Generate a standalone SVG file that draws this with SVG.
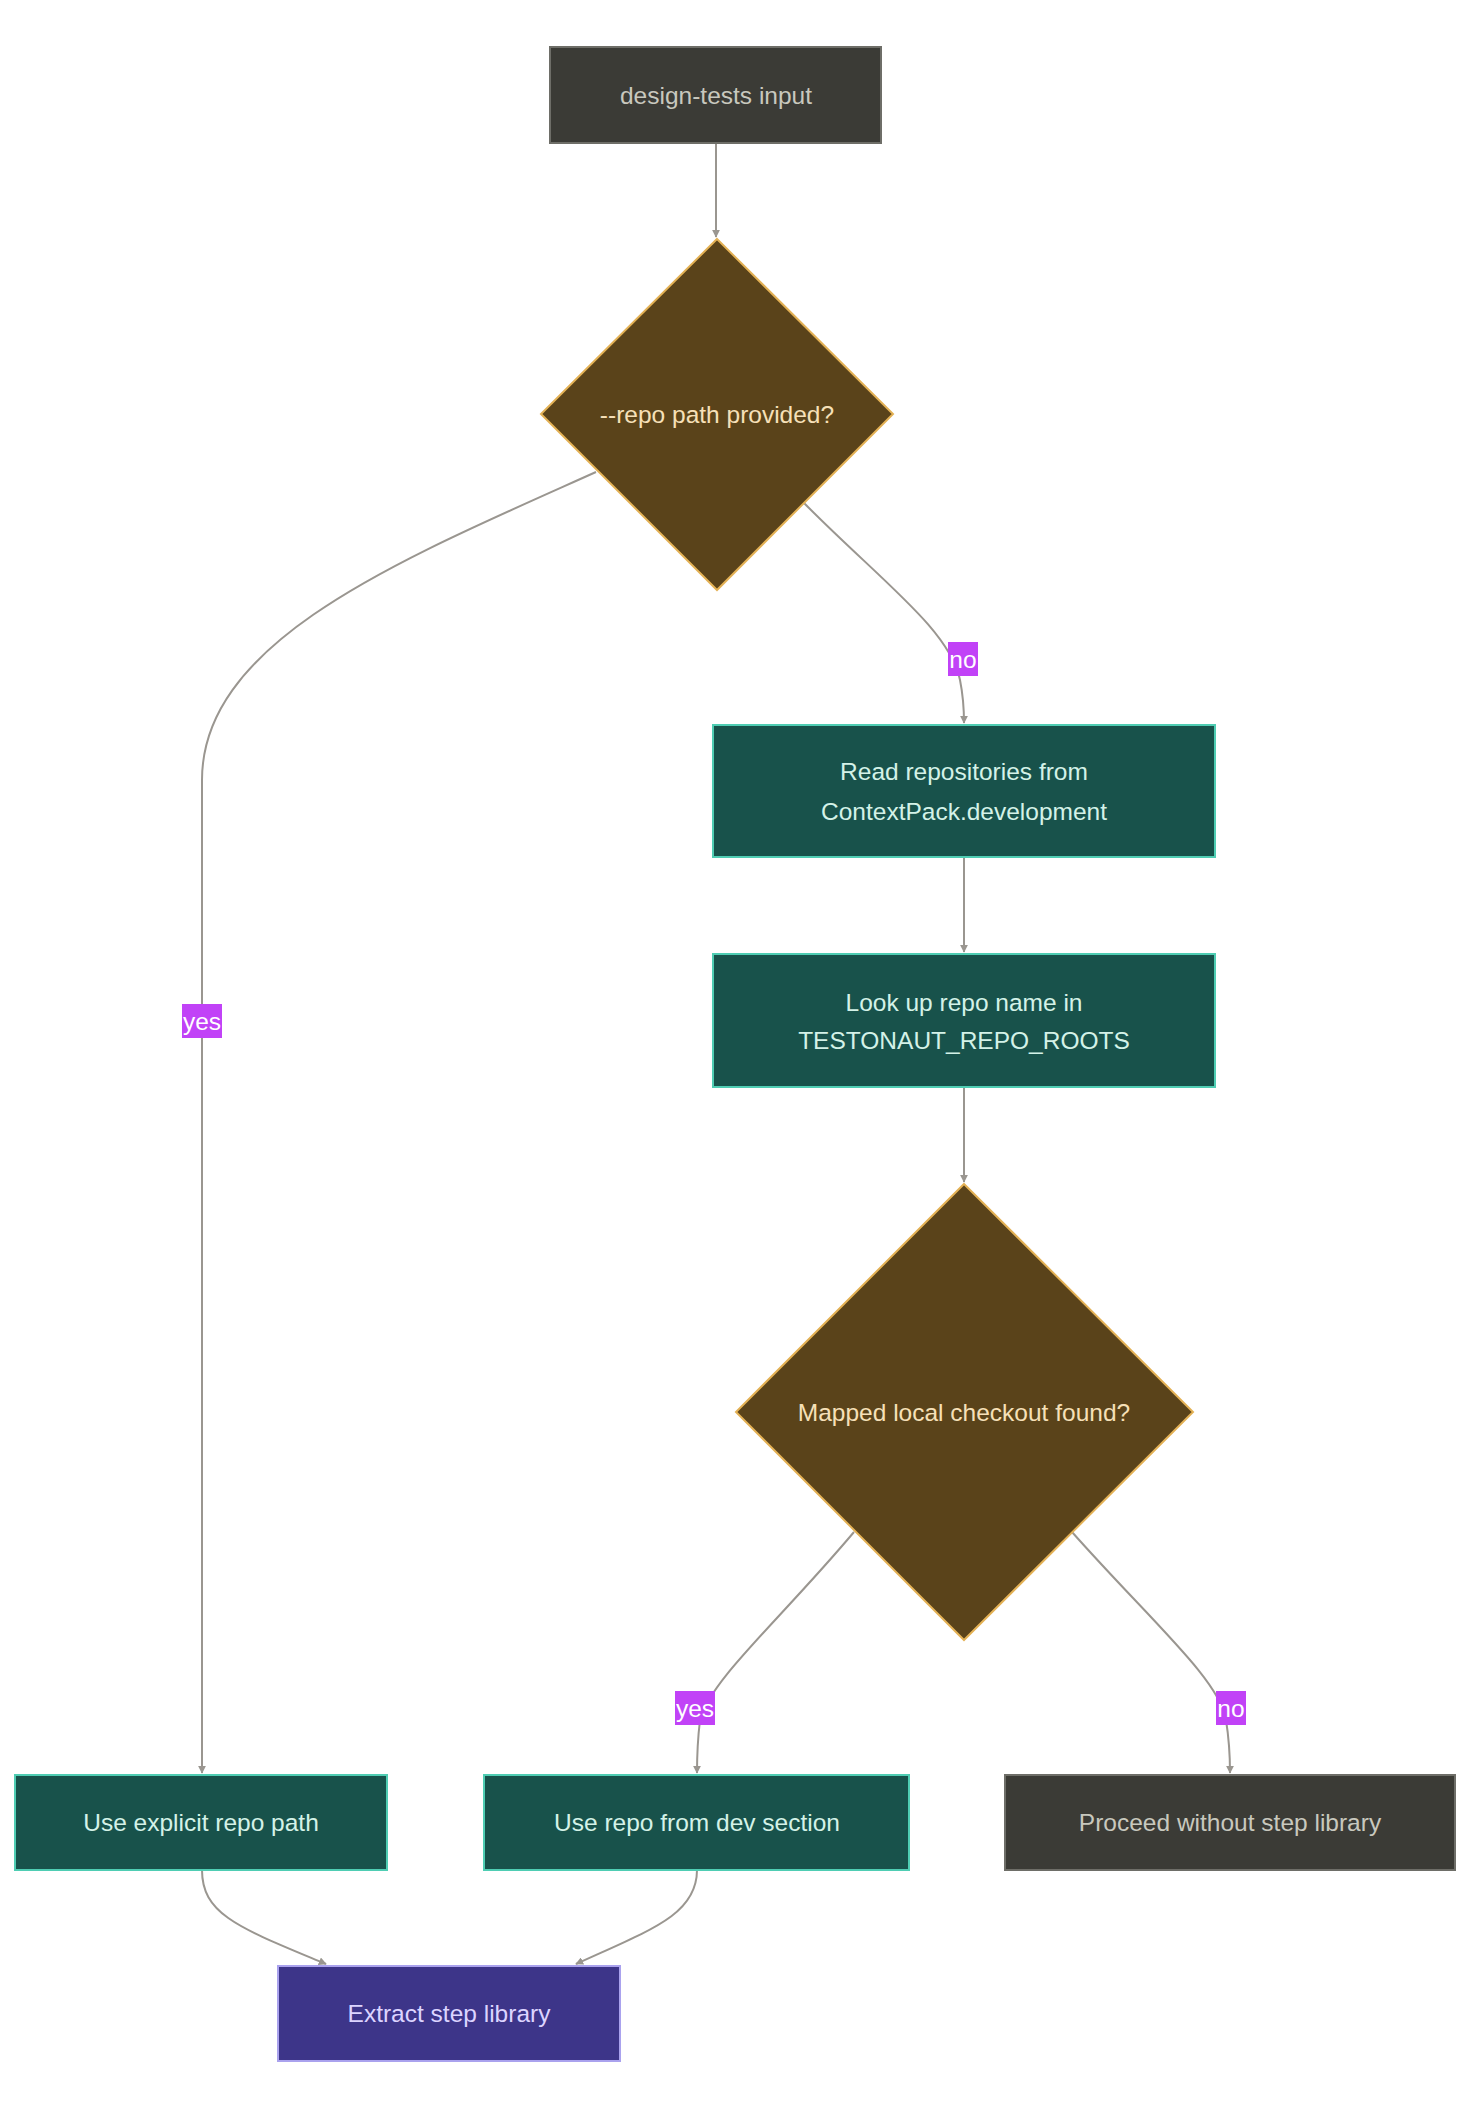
<svg xmlns="http://www.w3.org/2000/svg" width="1472" height="2110" viewBox="0 0 1472 2110">
<defs>
<marker id="ah" viewBox="0 0 10 10" refX="9" refY="5" markerWidth="8" markerHeight="8" markerUnits="userSpaceOnUse" orient="auto"><path d="M0,0L10,5L0,10z" fill="#9a9690"/></marker>
<style>
text{font-family:"Liberation Sans",Arial,sans-serif;font-size:24.5px;text-anchor:middle;dominant-baseline:central}
.e{fill:none;stroke:#9a9690;stroke-width:2;marker-end:url(#ah)}
.dk rect{fill:#3b3b36;stroke:#6e6e68;stroke-width:2}.dk text{fill:#c8c8be}
.tl rect{fill:#18524b;stroke:#4fcdb3;stroke-width:2}.tl text{fill:#d4f2e8}
.dm polygon{fill:#5a431a;stroke:#e3b155;stroke-width:2}.dm text{fill:#f6e0b8}
.pu rect{fill:#3d3589;stroke:#aaa2ee;stroke-width:2}.pu text{fill:#dcd4ff}
.lb rect{fill:#c142f7}.lb text{fill:#fff}
</style>
</defs>
<rect width="1472" height="2110" fill="#fff"/>
<g id="edges">
<path class="e" d="M716,143 L716,237"/>
<path class="e" d="M596,472 C400,560 202,640 202,780 L202,1773"/>
<path class="e" d="M804,503 C880,580 950,630 960,680 Q964,700 964,723"/>
<path class="e" d="M964,857 L964,952"/>
<path class="e" d="M964,1087 L964,1182"/>
<path class="e" d="M854,1532 C780,1620 710,1680 700,1720 Q697,1745 697,1773"/>
<path class="e" d="M1072,1532 C1150,1620 1220,1680 1226,1720 Q1230,1745 1230,1773"/>
<path class="e" d="M202,1870 C202,1915 240,1928 326,1964"/>
<path class="e" d="M697,1870 C697,1915 650,1930 576,1964"/>
<g class="lb"><rect x="948" y="642" width="30" height="34"/><text x="963" y="659">no</text></g>
<g class="lb"><rect x="182" y="1004" width="40" height="34"/><text x="202" y="1021">yes</text></g>
<g class="lb"><rect x="675" y="1691" width="40" height="34"/><text x="695" y="1708">yes</text></g>
<g class="lb"><rect x="1216" y="1691" width="30" height="34"/><text x="1231" y="1708">no</text></g>
</g>
<g id="start" class="dk"><rect x="550" y="47" width="331" height="96"/><text x="716" y="95">design-tests input</text></g>
<g id="d1" class="dm"><polygon points="717,239 893,414 717,590 541,414"/><text x="717" y="414">--repo path provided?</text></g>
<g id="read" class="tl"><rect x="713" y="725" width="502" height="132"/><text x="964" y="771">Read repositories from</text><text x="964" y="811">ContextPack.development</text></g>
<g id="look" class="tl"><rect x="713" y="954" width="502" height="133"/><text x="964" y="1002">Look up repo name in</text><text x="964" y="1040">TESTONAUT_REPO_ROOTS</text></g>
<g id="d2" class="dm"><polygon points="964,1184 1193,1412 964,1640 736,1412"/><text x="964" y="1412">Mapped local checkout found?</text></g>
<g id="explicit" class="tl"><rect x="15" y="1775" width="372" height="95"/><text x="201" y="1822">Use explicit repo path</text></g>
<g id="dev" class="tl"><rect x="484" y="1775" width="425" height="95"/><text x="697" y="1822">Use repo from dev section</text></g>
<g id="proceed" class="dk"><rect x="1005" y="1775" width="450" height="95"/><text x="1230" y="1822">Proceed without step library</text></g>
<g id="extract" class="pu"><rect x="278" y="1966" width="342" height="95"/><text x="449" y="2013">Extract step library</text></g>
</svg>
